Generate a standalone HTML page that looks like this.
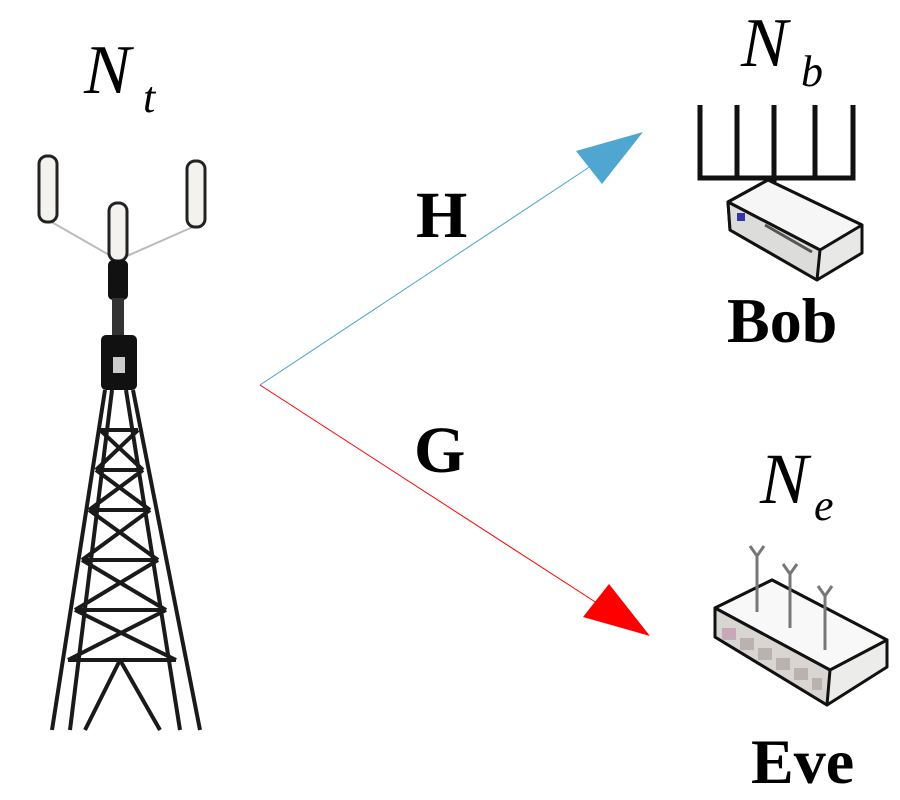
<!DOCTYPE html>
<html><head><meta charset="utf-8"><style>html,body{margin:0;padding:0;background:#fff;}svg{display:block}</style></head>
<body>
<svg width="900" height="800" viewBox="0 0 900 800" xmlns="http://www.w3.org/2000/svg" font-family="Liberation Serif, serif">
<rect width="900" height="800" fill="#fff"/>
<!-- labels -->
<text x="84" y="93" font-size="70" font-style="italic">N</text>
<text x="143" y="112" font-size="44" font-style="italic">t</text>
<text x="741" y="66" font-size="70" font-style="italic">N</text>
<text x="801" y="86" font-size="44" font-style="italic">b</text>
<text x="760" y="503" font-size="72" font-style="italic">N</text>
<text x="814" y="520" font-size="44" font-style="italic">e</text>
<text x="416" y="237" font-size="66" font-weight="bold">H</text>
<text x="414" y="472" font-size="66" font-weight="bold">G</text>
<text x="727" y="342" font-size="64" font-weight="bold">Bob</text>
<text x="751" y="783" font-size="64" font-weight="bold">Eve</text>
<!-- arrows -->
<line x1="260" y1="385" x2="600" y2="160" stroke="#4aa3cf" stroke-width="1"/>
<polygon points="643,132 576,151 602,184" fill="#4fa6d0"/>
<line x1="260" y1="385" x2="600" y2="605" stroke="#f00" stroke-width="1"/>
<polygon points="650,636 609,584 583,617" fill="#f00"/>
<!-- tower antennas -->
<g stroke="#bbb" stroke-width="2"><line x1="48" y1="220" x2="118" y2="260"/><line x1="195" y1="226" x2="118" y2="260"/></g>
<g fill="#f4f2ee" stroke="#222" stroke-width="3">
<rect x="39" y="156" width="18" height="66" rx="8"/>
<rect x="109" y="203" width="18" height="58" rx="8"/>
<rect x="187" y="161" width="18" height="66" rx="8"/>
</g>
<rect x="108" y="260" width="20" height="40" rx="5" fill="#111"/>
<rect x="112" y="298" width="12" height="40" fill="#333"/>
<rect x="101" y="335" width="36" height="55" rx="5" fill="#111"/>
<rect x="113" y="357" width="12" height="16" fill="#ccc"/>
<!-- lattice -->
<g stroke="#1a1a1a" stroke-width="4" fill="none">
<line x1="105" y1="390" x2="52" y2="730"/><line x1="112" y1="390" x2="70" y2="730"/>
<line x1="133" y1="390" x2="200" y2="730"/><line x1="126" y1="390" x2="180" y2="730"/>
<line x1="100" y1="430" x2="138" y2="430"/><line x1="96" y1="470" x2="143" y2="470"/>
<line x1="89" y1="510" x2="150" y2="510"/><line x1="82" y1="560" x2="158" y2="560"/>
<line x1="75" y1="610" x2="166" y2="610"/><line x1="68" y1="660" x2="176" y2="660"/>
<line x1="100" y1="430" x2="143" y2="470"/><line x1="138" y1="430" x2="96" y2="470"/>
<line x1="96" y1="470" x2="150" y2="510"/><line x1="143" y1="470" x2="89" y2="510"/>
<line x1="89" y1="510" x2="158" y2="560"/><line x1="150" y1="510" x2="82" y2="560"/>
<line x1="82" y1="560" x2="166" y2="610"/><line x1="158" y1="560" x2="75" y2="610"/>
<line x1="75" y1="610" x2="176" y2="660"/><line x1="166" y1="610" x2="68" y2="660"/>
<line x1="120" y1="660" x2="85" y2="730"/><line x1="120" y1="660" x2="160" y2="730"/>
</g>
<!-- Bob antenna comb -->
<g stroke="#111" stroke-width="5" fill="none">
<polyline points="700,105 700,178 853,178 853,105"/>
<line x1="737" y1="105" x2="737" y2="178"/><line x1="774" y1="105" x2="774" y2="182"/><line x1="815" y1="105" x2="815" y2="178"/>
</g>
<!-- Bob router -->
<g stroke="#111" stroke-width="3" stroke-linejoin="round">
<polygon points="728,202 768,180 862,225 862,253 817,280 730,230" fill="#e8e8e6"/>
<polygon points="728,202 768,180 862,225 820,250" fill="#f6f6f6"/>
<polygon points="728,202 820,250 817,280 730,230" fill="#dcdcda"/>
</g>
<rect x="737" y="213" width="8" height="8" fill="#33a"/>
<line x1="765" y1="225" x2="812" y2="252" stroke="#555" stroke-width="3"/>
<!-- Eve router -->
<g stroke="#111" stroke-width="3" stroke-linejoin="round">
<polygon points="715,608 772,580 887,640 887,667 827,705 715,637" fill="#ececea"/>
<polygon points="715,608 772,580 887,640 830,670" fill="#f8f8f8"/>
<polygon points="715,608 830,670 827,705 715,637" fill="#d8d5d2"/>
</g>
<g fill="#b9b2ae"><rect x="722" y="628" width="14" height="12"/><rect x="740" y="638" width="14" height="12"/><rect x="758" y="648" width="14" height="12"/><rect x="776" y="658" width="14" height="12"/><rect x="794" y="668" width="14" height="12"/><rect x="812" y="678" width="10" height="12"/></g>
<rect x="722" y="628" width="14" height="10" fill="#c9a6b8"/>
<g stroke="#777" stroke-width="3" fill="none">
<line x1="757" y1="555" x2="757" y2="612"/><line x1="790" y1="572" x2="790" y2="628"/><line x1="825" y1="594" x2="825" y2="650"/>
<polyline points="750,546 757,556 764,546"/><polyline points="783,564 790,574 797,564"/><polyline points="818,586 825,596 832,586"/>
</g>
</svg>
</body></html>
